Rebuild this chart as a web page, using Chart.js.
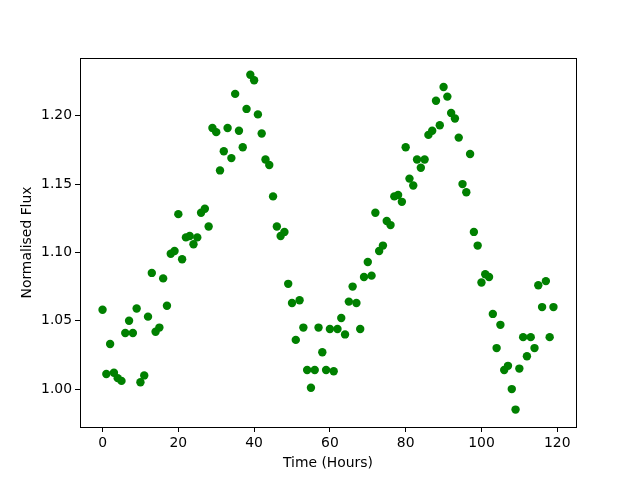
<!DOCTYPE html>
<html>
<head>
<meta charset="utf-8">
<script src="https://cdn.jsdelivr.net/npm/chart.js@4/dist/chart.umd.min.js"></script>
<style>
html,body{margin:0;padding:0;background:#fff;}
canvas{display:block;}
</style>
</head>
<body>
<canvas id="c" width="640" height="480"></canvas>
<script>
const hours = Array.from({length: 120}, (_, i) => i);
const flux = [
1.058,1.011,1.033,1.012,1.008,1.006,1.041,1.050,1.041,1.059,
1.005,1.010,1.053,1.085,1.042,1.045,1.081,1.061,1.099,1.101,
1.128,1.095,1.111,1.112,1.106,1.111,1.129,1.132,1.119,1.191,
1.188,1.160,1.174,1.191,1.169,1.216,1.189,1.177,1.205,1.230,
1.226,1.201,1.187,1.168,1.164,1.141,1.119,1.112,1.115,1.077,
1.063,1.036,1.065,1.045,1.014,1.001,1.014,1.045,1.027,1.014,
1.044,1.013,1.044,1.052,1.040,1.064,1.075,1.063,1.044,1.082,
1.093,1.083,1.129,1.101,1.105,1.123,1.120,1.141,1.142,1.137,
1.177,1.154,1.149,1.168,1.162,1.168,1.186,1.189,1.211,1.193,
1.221,1.214,1.202,1.198,1.184,1.150,1.144,1.172,1.115,1.105,
1.078,1.084,1.082,1.055,1.030,1.047,1.014,1.017,1.000,0.985,
1.015,1.038,1.024,1.038,1.030,1.076,1.060,1.079,1.038,1.060
];
const xTicks = [0, 20, 40, 60, 80, 100, 120];
const yTicks = [1.00, 1.05, 1.10, 1.15, 1.20];
const xLabel = 'Time (Hours)';
const yLabel = 'Normalised Flux';

const points = hours.map((h, i) => ({x: h, y: flux[i]}));
const font = {family: 'DejaVu Sans', size: 13.9};

const frame = {
  id: 'frame',
  afterDraw(chart) {
    const a = chart.chartArea, ctx = chart.ctx;
    ctx.save();
    ctx.strokeStyle = '#000';
    ctx.lineWidth = 1;
    ctx.strokeRect(Math.round(a.left) + 0.5, Math.round(a.top) + 0.5,
      Math.round(a.right - a.left), Math.round(a.bottom - a.top));
    ctx.restore();
  }
};

new Chart(document.getElementById('c'), {
  type: 'scatter',
  data: {
    datasets: [{
      data: points,
      backgroundColor: '#008000',
      borderColor: '#008000',
      pointRadius: 4.2,
      pointHoverRadius: 4.2,
      borderWidth: 0
    }]
  },
  options: {
    responsive: false,
    animation: false,
    devicePixelRatio: 1,
    layout: {padding: {left: 0, right: 64, top: 58, bottom: 0}},
    plugins: {legend: {display: false}, tooltip: {enabled: false}},
    scales: {
      x: {
        type: 'linear',
        min: -5.95, max: 124.95,
        afterFit(s) { s.height = 53; },
        afterBuildTicks(s) { s.ticks = xTicks.map(v => ({value: v})); },
        grid: {display: true, drawOnChartArea: false, drawTicks: true, tickLength: 5, color: '#000', tickColor: '#000'},
        border: {display: false},
        ticks: {color: '#000', font: font, padding: 3, maxRotation: 0, callback: v => String(v)},
        title: {display: true, text: xLabel, color: '#000', font: font, padding: {top: 0, bottom: 8}}
      },
      y: {
        type: 'linear',
        min: 0.97225, max: 1.24225,
        afterFit(s) { s.width = 80; },
        afterBuildTicks(s) { s.ticks = yTicks.map(v => ({value: v})); },
        grid: {display: true, drawOnChartArea: false, drawTicks: true, tickLength: 5, color: '#000', tickColor: '#000'},
        border: {display: false},
        ticks: {color: '#000', font: font, padding: 3, callback: v => v.toFixed(2)},
        title: {display: true, text: yLabel, color: '#000', font: font, padding: {top: 19, bottom: 0}}
      }
    }
  },
  plugins: [frame]
});
</script>
</body>
</html>
